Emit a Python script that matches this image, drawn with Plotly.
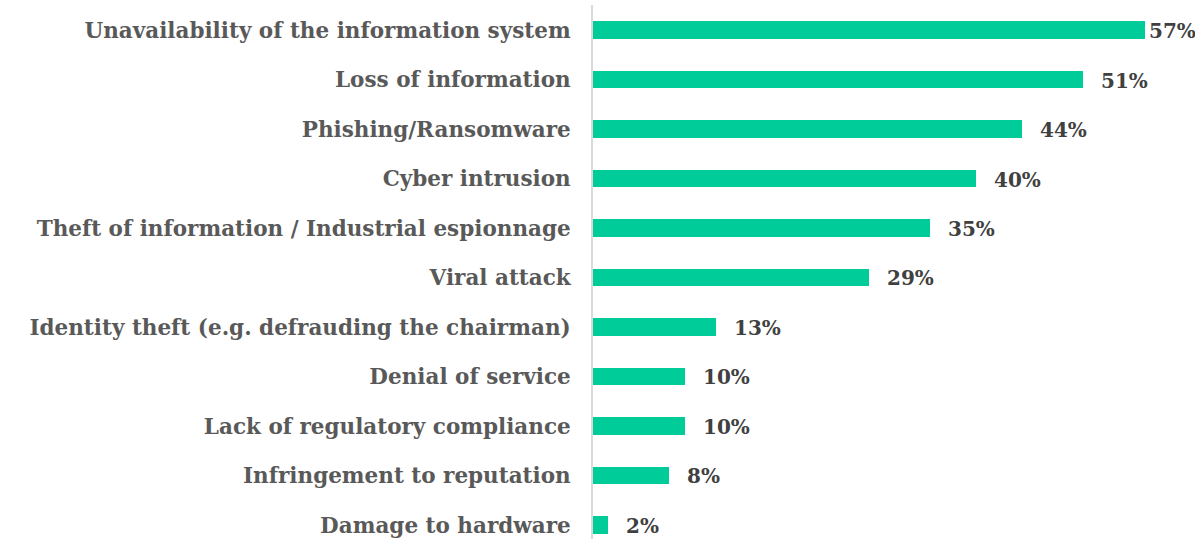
import plotly.graph_objects as go

categories = [
    "Unavailability of the information system",
    "Loss of information",
    "Phishing/Ransomware",
    "Cyber intrusion",
    "Theft of information / Industrial espionnage",
    "Viral attack",
    "Identity theft (e.g. defrauding the chairman)",
    "Denial of service",
    "Lack of regulatory compliance",
    "Infringement to reputation",
    "Damage to hardware",
]
values = [57.0, 50.6, 44.3, 39.6, 34.8, 28.5, 12.7, 9.5, 9.5, 7.85, 1.6]
labels = ["57%", "51%", "44%", "40%", "35%", "29%", "13%", "10%", "10%", "8%", "2%"]

X_MAX = 62.17

fig = go.Figure(go.Bar(
    x=values,
    y=categories,
    orientation="h",
    marker=dict(color="#00CC99", line=dict(width=0)),
    width=0.345,
    hoverinfo="skip",
))

for v, c, t in zip(values, categories, labels):
    shift = 16 if v < X_MAX - 5.5 else 2
    fig.add_annotation(
        x=v, y=c, text=t, showarrow=False,
        xanchor="left", yanchor="middle", xshift=shift, yshift=-1,
        font=dict(family="DejaVu Serif", size=20, color="#404040", weight="bold"),
    )

fig.update_layout(
    width=1195,
    height=539,
    margin=dict(l=593, r=0, t=5, b=0),
    plot_bgcolor="white",
    paper_bgcolor="white",
    showlegend=False,
    bargap=0,
    xaxis=dict(range=[0, X_MAX], visible=False, showgrid=False, zeroline=False),
    yaxis=dict(
        type="category",
        categoryorder="array",
        categoryarray=categories,
        range=[10.283, -0.505],
        showgrid=False,
        zeroline=False,
        showline=True,
        linecolor="#d9d9d9",
        linewidth=2,
        ticks="",
        ticklabelstandoff=16,
        tickfont=dict(family="DejaVu Serif", size=21.5, color="#595959", weight="bold"),
    ),
)

fig.write_html(
    "out.html",
    config={"displayModeBar": False},
    post_script="document.body.style.margin='0';document.body.style.overflow='hidden';",
)
